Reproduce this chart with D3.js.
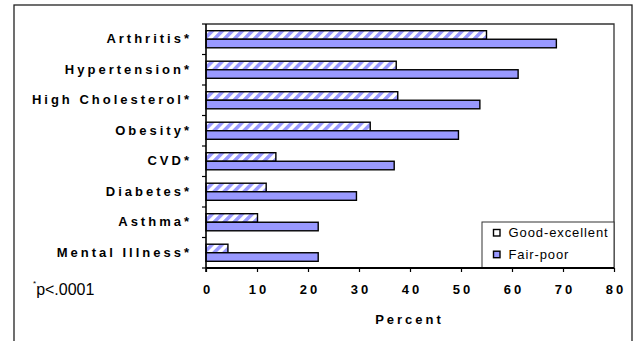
<!DOCTYPE html>
<html>
<head>
<meta charset="utf-8">
<script src="https://cdn.jsdelivr.net/npm/d3@7"></script>
<style>
  html, body { margin: 0; padding: 0; background: #fff; }
  svg { display: block; font-family: Arial, "Liberation Sans", sans-serif; }
</style>
</head>
<body>
<svg id="chart" width="633" height="341"></svg>
<script>
// Chronic conditions by self-rated health
const categories = ["Arthritis*", "Hypertension*", "High Cholesterol*", "Obesity*", "CVD*", "Diabetes*", "Asthma*", "Mental Illness*"];
const seriesNames = ["Good-excellent", "Fair-poor"];
const goodExcellent = [55.0, 37.3, 37.6, 32.2, 13.7, 11.8, 10.1, 4.3];
const fairPoor = [68.7, 61.2, 53.7, 49.5, 36.9, 29.5, 22.0, 22.0];
const xTicks = [0, 10, 20, 30, 40, 50, 60, 70, 80];

const blue = "#9999ff";
const svg = d3.select("#chart");

const plot = { left: 206, top: 24, right: 614, bottom: 268 };

// Hatched fill for the first series
const defs = svg.append("defs");
const pat = defs.append("pattern")
  .attr("id", "hatch")
  .attr("patternUnits", "userSpaceOnUse")
  .attr("width", 7.07).attr("height", 7.07)
  .attr("patternTransform", "rotate(45)");
pat.append("rect").attr("width", 7.07).attr("height", 7.07).attr("fill", "#fff");
pat.append("rect").attr("width", 3.6).attr("height", 7.07).attr("fill", blue);

// Outer frame
svg.append("rect")
  .attr("x", 14).attr("y", 5).attr("width", 618).attr("height", 345)
  .attr("fill", "none").attr("stroke", "#222").attr("stroke-width", 1.3);

const x = d3.scaleLinear().domain([0, 80]).range([plot.left, plot.right]);
const y = d3.scaleBand().domain(categories).range([plot.top, plot.bottom])
  .paddingInner(0.44).paddingOuter(0.22);
const sub = d3.scaleBand().domain(seriesNames).range([0, y.bandwidth()]);

// Plot area border (top and right)
svg.append("path")
  .attr("d", `M${plot.left},${plot.top}H${plot.right}V${plot.bottom}`)
  .attr("fill", "none").attr("stroke", "#333").attr("stroke-width", 1.3);

const data = categories.map((c, i) => ({ cat: c, values: [goodExcellent[i], fairPoor[i]] }));

const groups = svg.append("g").selectAll("g").data(data).join("g")
  .attr("transform", d => `translate(0,${y(d.cat)})`);

groups.selectAll("rect").data(d => d.values.map((v, j) => ({ v, s: seriesNames[j] })))
  .join("rect")
  .attr("x", x(0))
  .attr("y", d => sub(d.s))
  .attr("width", d => x(d.v) - x(0))
  .attr("height", sub.bandwidth())
  .attr("fill", d => d.s === seriesNames[0] ? "url(#hatch)" : blue)
  .attr("stroke", "#000").attr("stroke-width", 1.4);

// Category axis
const yAxis = svg.append("g")
  .attr("transform", `translate(${plot.left},0)`)
  .call(d3.axisLeft(y).tickSize(0).tickPadding(14));
yAxis.select(".domain").remove();
yAxis.selectAll("text")
  .attr("font-size", 13).attr("font-weight", "bold")
  .attr("letter-spacing", "3px").attr("fill", "#000")
  .attr("font-family", "Arial, 'Liberation Sans', sans-serif");

// Tick marks between categories
const boundaries = d3.range(categories.length + 1).map(i => plot.top + i * y.step());
svg.append("g").selectAll("line").data(boundaries).join("line")
  .attr("x1", plot.left - 4).attr("x2", plot.left)
  .attr("y1", d => d).attr("y2", d => d)
  .attr("stroke", "#000").attr("stroke-width", 1.2);
svg.append("line")
  .attr("x1", plot.left).attr("x2", plot.left)
  .attr("y1", plot.top).attr("y2", plot.bottom + 4)
  .attr("stroke", "#000").attr("stroke-width", 1.6);

// Legend
const lg = svg.append("g");
lg.append("rect")
  .attr("x", 482).attr("y", 222).attr("width", plot.right - 482).attr("height", plot.bottom - 222)
  .attr("fill", "#fff").attr("stroke", "#333").attr("stroke-width", 1);
seriesNames.forEach((s, i) => {
  const yy = 229.5 + i * 21.7;
  lg.append("rect")
    .attr("x", 493.5).attr("y", yy).attr("width", 6.5).attr("height", 6.5)
    .attr("fill", i === 0 ? "#fff" : blue)
    .attr("stroke", "#000").attr("stroke-width", 1.4);
  lg.append("text")
    .attr("x", 508.5).attr("y", yy + 7.5)
    .attr("font-size", 13).attr("letter-spacing", "0.9px")
    .attr("fill", "#000")
    .text(s);
});

// Value axis
const xAxis = svg.append("g")
  .attr("transform", `translate(0,${plot.bottom})`)
  .call(d3.axisBottom(x).tickValues(xTicks).tickSize(4).tickPadding(13).tickFormat(d3.format("d")));
xAxis.select(".domain").attr("stroke", "#000").attr("stroke-width", 1.8)
  .attr("d", `M${plot.left},0H${plot.right}`);
xAxis.selectAll(".tick line").attr("stroke", "#000").attr("stroke-width", 1.2);
xAxis.selectAll("text")
  .attr("font-size", 13).attr("font-weight", "bold")
  .attr("letter-spacing", "3px").attr("fill", "#000")
  .attr("dx", "1.5px")
  .attr("font-family", "Arial, 'Liberation Sans', sans-serif");

svg.append("text")
  .attr("x", 409.5).attr("y", 324)
  .attr("text-anchor", "middle")
  .attr("font-size", 13).attr("font-weight", "bold")
  .attr("letter-spacing", "3px")
  .text("Percent");

// Footnote
const note = svg.append("text").attr("x", 33).attr("y", 295).attr("font-size", 16);
note.append("tspan").attr("font-size", 8).attr("dy", -9).text("*");
note.append("tspan").attr("dy", 9).text("p<.0001");
</script>
</body>
</html>
